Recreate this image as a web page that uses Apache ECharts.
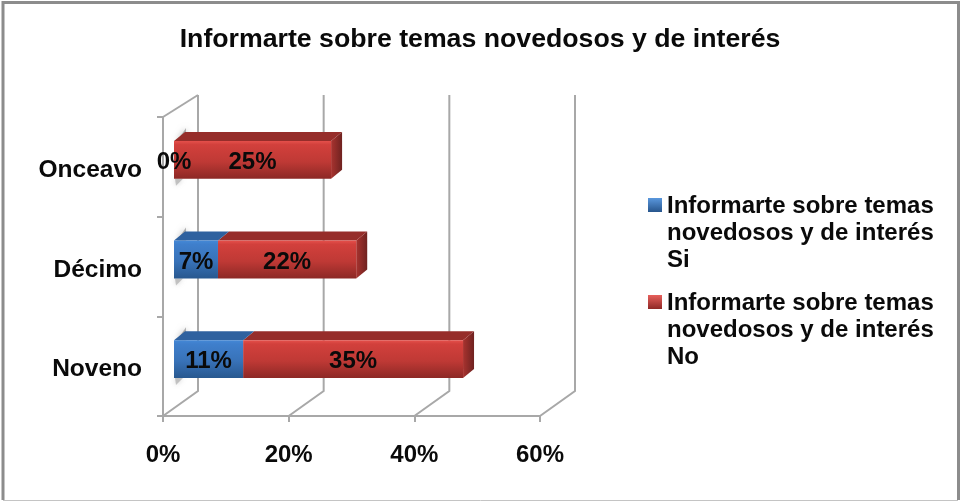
<!DOCTYPE html>
<html><head><meta charset="utf-8">
<style>html,body{margin:0;padding:0;background:#fff}#c{width:960px;height:501px}</style>
<script src="https://cdn.jsdelivr.net/npm/echarts@6/dist/echarts.min.js"></script>
</head><body><div id="c"></div>
<script>
const categories = ['Noveno', 'Décimo', 'Onceavo'];
const siValues = [11, 7, 0];
const noValues = [35, 22, 25];
const wallTicks = [0, 20, 40, 60];
const titleText = 'Informarte sobre temas novedosos y de interés';
const siName = 'Informarte sobre temas\nnovedosos y de interés\nSi';
const noName = 'Informarte sobre temas\nnovedosos y de interés\nNo';

const G = echarts.graphic.LinearGradient;
const DX = 11, DY = 9;      // bar inset from the front plane / depth of the box
const WX = 35, WY = 25;     // wall depth
const FONT = '"Liberation Sans", Arial, sans-serif';
const grey = '#a8a8a8';
const ink = '#0a0a0a';

function vGrad(stops) { return new G(0, 0, 0, 1, stops.map(c => ({offset: c[0], color: c[1]}))); }
const faces = {
  si: {front: vGrad([[0,'#4488d6'],[0.1,'#3f7fcc'],[0.55,'#3872b8'],[1,'#28588f']]), top: '#2f619f'},
  no: {front: vGrad([[0,'#e5504b'],[0.1,'#d2403c'],[0.55,'#bf3935'],[1,'#8c2825']]), top: '#962d2a'}
};

function boxRenderer(face, showSide) {
  return function (params, api) {
    const end = api.value(0), cat = api.value(1), start = api.value(2), shown = api.value(3);
    const a = api.coord([start, cat]), b = api.coord([end, cat]);
    const h = api.size([0, 1])[1] * 0.38;
    const x0 = a[0] + DX, x1 = b[0] + DX;
    const yT = a[1] - 7 - h / 2, yB = yT + h;
    const kids = [];
    if (x1 > x0) {
      kids.push({type: 'polygon', shape: {points: [[x0, yT], [x0 + DX, yT - DY], [x1 + DX, yT - DY], [x1, yT]]}, style: {fill: face.top}});
      if (showSide) {
        kids.push({type: 'polygon', shape: {points: [[x1, yT], [x1 + DX, yT - DY], [x1 + DX, yB - DY], [x1, yB]]},
          style: {fill: new G(0, 0, 1, 0, [{offset: 0, color: '#a8332f'}, {offset: 1, color: '#6f2220'}])}});
      }
      kids.push({type: 'rect', shape: {x: x0, y: yT, width: x1 - x0, height: h}, style: {fill: face.front}});
    }
    kids.push({type: 'text', z2: 10, style: {x: (x0 + x1) / 2, y: (yT + yB) / 2 + 2.5, text: shown + '%', align: 'center', verticalAlign: 'middle',
      fill: ink, font: 'bold 24px ' + FONT}});
    return {type: 'group', children: kids};
  };
}

function wallRenderer(params, api) {
  const p = api.coord([api.value(0), 0]);
  const x = p[0], floor = params.coordSys.y + params.coordSys.height, top = params.coordSys.y;
  const kids = [{type: 'polyline', shape: {points: [[x, floor], [x + WX, floor - WY], [x + WX, top - 22]]},
    style: {stroke: grey, lineWidth: 2, fill: 'none'}}];
  if (api.value(0) === 0) {
    kids.push({type: 'line', shape: {x1: x, y1: top, x2: x + WX, y2: top - 22}, style: {stroke: grey, lineWidth: 2}});
  }
  return {type: 'group', children: kids};
}

function shadowRenderer(params, api) {
  const a = api.coord([0, api.value(0)]);
  const h = api.size([0, 1])[1] * 0.38;
  const x0 = a[0] + DX, yT = a[1] - 7 - h / 2, yB = yT + h;
  return {type: 'group', children: [
    {type: 'polygon', shape: {points: [[x0 + 3, yT], [x0 + 12, yT - 13], [x0 + 12, yT]]},
      style: {fill: 'rgba(130,130,130,0.6)', shadowBlur: 6, shadowColor: 'rgba(120,120,120,0.9)'}},
    {type: 'polygon', shape: {points: [[x0 + 1, yB], [x0 + 9, yB], [x0 + 2, yB + 7]]},
      style: {fill: 'rgba(150,150,150,0.5)', shadowBlur: 5, shadowColor: 'rgba(140,140,140,0.8)'}}
  ]};
}

const siData = categories.map((c, i) => [siValues[i], i, 0, siValues[i]]);
const noData = categories.map((c, i) => [siValues[i] + noValues[i], i, siValues[i], noValues[i]]);

const legendIcon = 'path://M0 0h0.01v0.01h-0.01z M0 5h14v14h-14z M0 81h0.01v0.01h-0.01z';

const option = {
  animation: false,
  backgroundColor: '#fff',
  title: {text: titleText, left: 475, top: 21, textAlign: 'center',
    textStyle: {fontFamily: FONT, fontWeight: 'bold', fontSize: 26.7, color: ink}},
  grid: {left: 163, right: 420, top: 117, bottom: 85},
  xAxis: {type: 'value', min: 0, max: 60, interval: 20,
    axisLine: {show: true, lineStyle: {color: grey, width: 2}},
    axisTick: {show: true, length: 6, lineStyle: {color: grey, width: 2}},
    splitLine: {show: false},
    axisLabel: {formatter: '{value}%', margin: 27, color: ink, fontFamily: FONT, fontWeight: 'bold', fontSize: 24}},
  yAxis: {type: 'category', data: categories,
    axisLine: {show: true, lineStyle: {color: grey, width: 2}},
    axisTick: {show: true, length: 6, lineStyle: {color: grey, width: 2}},
    axisLabel: {margin: 21, color: ink, fontFamily: FONT, fontWeight: 'bold', fontSize: 24.5, verticalAlign: 'top', lineHeight: 7}},
  legend: {left: 643, top: 188, orient: 'vertical', itemWidth: 14, itemHeight: 81, itemGap: 16, itemStyle: {borderWidth: 0},
    selectedMode: false, icon: legendIcon,
    textStyle: {fontFamily: FONT, fontWeight: 'bold', fontSize: 24, lineHeight: 27, color: ink},
    data: [
      {name: siName, itemStyle: {color: vGrad([[0,'#5a98de'],[0.06,'#5a98de'],[0.235,'#27558c'],[1,'#27558c']])}},
      {name: noName, itemStyle: {color: vGrad([[0,'#e8605c'],[0.06,'#e8605c'],[0.235,'#8e2825'],[1,'#8e2825']])}}
    ]},
  graphic: [
    {type: 'polyline', silent: true, shape: {points: [[3, 500], [3, 2.5], [958.5, 2.5], [958.5, 500]]}, style: {fill: 'none', stroke: '#8c8c8c', lineWidth: 3}},
    {type: 'line', silent: true, shape: {x1: 3, y1: 500.5, x2: 958, y2: 500.5}, style: {stroke: '#c4c4c4', lineWidth: 1}}
  ],
  series: [
    {type: 'custom', name: 'walls', coordinateSystem: 'cartesian2d', z: 1, silent: true, renderItem: wallRenderer,
      data: wallTicks.map(t => [t]), encode: {x: 0}},
    {type: 'custom', name: 'shade', coordinateSystem: 'cartesian2d', z: 1, silent: true, renderItem: shadowRenderer,
      data: categories.map((c, i) => [i]), encode: {y: 0}},
    {type: 'custom', name: siName, coordinateSystem: 'cartesian2d', z: 3, renderItem: boxRenderer(faces.si, false),
      data: siData, encode: {x: 0, y: 1}, itemStyle: {color: '#2f619f'}},
    {type: 'custom', name: noName, coordinateSystem: 'cartesian2d', z: 2, renderItem: boxRenderer(faces.no, true),
      data: noData, encode: {x: 0, y: 1}, itemStyle: {color: '#962d2a'}}
  ]
};
const chart = echarts.init(document.getElementById('c'), null, {renderer: 'canvas'});
chart.setOption(option);
</script></body></html>
